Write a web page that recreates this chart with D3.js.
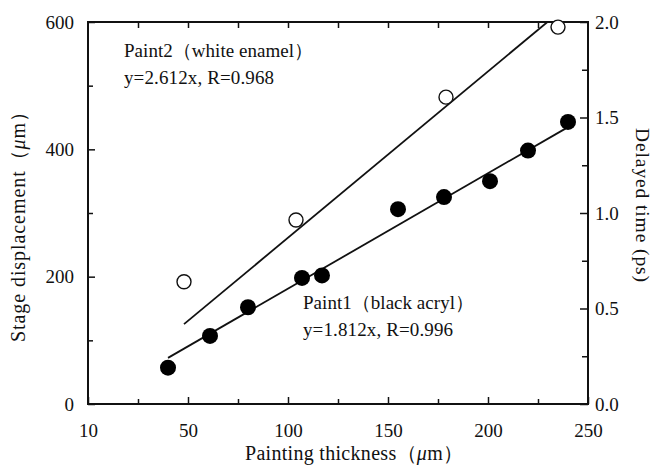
<!DOCTYPE html>
<html><head><meta charset="utf-8">
<script src="https://cdn.jsdelivr.net/npm/d3@7"></script>
<style>
body{margin:0;background:#fff;}
svg text{font-family:"Liberation Serif","Times New Roman","DejaVu Serif",serif !important;fill:#111;}
</style></head>
<body>
<svg id="c" width="654" height="466"></svg>
<script>
// Data
const paint1X = [40, 61, 80, 107, 117, 155, 178, 201, 220, 240];
const paint1Y = [57, 107, 152, 198, 202, 306, 325, 350, 398, 443];
const paint2X = [48, 104, 179, 235];
const paint2Y = [192, 289, 482, 592];
const fitSlopes = [1.812, 2.612];
const fitXRanges = [[40, 240], [48, 229.7]];
const xTickValues = [0, 50, 100, 150, 200, 250];
const xTickLabels = ["10", "50", "100", "150", "200", "250"];
const yTickValues = [0, 200, 400, 600];
const y2TickValues = [0, 0.5, 1.0, 1.5, 2.0];

const svg = d3.select("#c");
const L = 88, R = 588, T = 22, B = 404;
const x = d3.scaleLinear().domain([0, 250]).range([L, R]);
const y = d3.scaleLinear().domain([0, 600]).range([B, T]);
const y2 = d3.scaleLinear().domain([0, 2]).range([B, T]);

const fs = 19;
function styleAxis(g){
  g.attr("font-family", null).attr("font-size", null);
  g.select(".domain").remove();
  g.selectAll("line").attr("stroke","#111").attr("stroke-width",1.5);
  g.selectAll("text").attr("font-size",fs).attr("fill","#111");
}

// bottom axis major (inward)
svg.append("g").attr("transform",`translate(0,${B})`)
  .call(d3.axisBottom(x).tickValues(xTickValues).tickSize(-7).tickPadding(20)
    .tickFormat((d,i)=>xTickLabels[i])).call(styleAxis);
svg.append("g").attr("transform",`translate(0,${B})`)
  .call(d3.axisBottom(x).tickValues([25,75,125,175,225]).tickSize(-5).tickFormat("")).call(styleAxis);
// top axis
svg.append("g").attr("transform",`translate(0,${T})`)
  .call(d3.axisTop(x).tickValues([25,50,75,100,125,150,175,200,225]).tickSize(-6).tickFormat("")).call(styleAxis);
// left axis
svg.append("g").attr("transform",`translate(${L},0)`)
  .call(d3.axisLeft(y).tickValues(yTickValues).tickSize(-7).tickPadding(14).tickFormat(d3.format("d"))).call(styleAxis);
svg.append("g").attr("transform",`translate(${L},0)`)
  .call(d3.axisLeft(y).tickValues([100,300,500]).tickSize(-5).tickFormat("")).call(styleAxis);
// right axis
svg.append("g").attr("transform",`translate(${R},0)`)
  .call(d3.axisRight(y2).tickValues(y2TickValues).tickSize(-8).tickPadding(7).tickFormat(d3.format(".1f"))).call(styleAxis);
svg.append("g").attr("transform",`translate(${R},0)`)
  .call(d3.axisRight(y2).tickValues([0.25,0.75,1.25,1.75]).tickSize(-6).tickFormat("")).call(styleAxis);

// frame
svg.append("rect").attr("x",L).attr("y",T).attr("width",R-L).attr("height",B-T)
  .attr("fill","none").attr("stroke","#111").attr("stroke-width",2);

// clip
svg.append("clipPath").attr("id","clip").append("rect").attr("x",L).attr("y",T).attr("width",R-L).attr("height",B-T);

// fit lines
const line = d3.line().x(d=>x(d[0])).y(d=>y(d[1]));
fitSlopes.forEach((s,i)=>{
  const pts = fitXRanges[i].map(v=>[v, s*v]);
  svg.append("path").attr("d",line(pts)).attr("fill","none").attr("stroke","#111")
    .attr("stroke-width",1.8).attr("clip-path","url(#clip)");
});

// points
svg.append("g").selectAll("circle").data(paint1X.map((v,i)=>[v,paint1Y[i]])).join("circle")
  .attr("cx",d=>x(d[0])).attr("cy",d=>y(d[1])).attr("r",8).attr("fill","#000");
svg.append("g").selectAll("circle").data(paint2X.map((v,i)=>[v,paint2Y[i]])).join("circle")
  .attr("cx",d=>x(d[0])).attr("cy",d=>y(d[1])).attr("r",7).attr("fill","#fff")
  .attr("stroke","#111").attr("stroke-width",1.4);

// annotations
const ann = [
  ["Paint2（white enamel）", 124, 57, 189],
  ["y=2.612x, R=0.968", 124, 84, 150],
  ["Paint1（black acryl）", 303, 309, 171],
  ["y=1.812x, R=0.996", 303, 336, 150]
];
svg.append("g").selectAll("text").data(ann).join("text")
  .attr("x",d=>d[1]).attr("y",d=>d[2]).attr("font-size",19)
  .attr("textLength",d=>d[3]).attr("lengthAdjust","spacing").text(d=>d[0]);

// axis titles
const xt = svg.append("text").attr("x",245).attr("y",460).attr("font-size",20)
  .attr("textLength",218).attr("lengthAdjust","spacing");
xt.append("tspan").text("Painting thickness（");
xt.append("tspan").attr("font-style","italic").text("μ");
xt.append("tspan").text("m）");

const yt = svg.append("text").attr("transform","translate(25,342) rotate(-90)").attr("font-size",20)
  .attr("textLength",240).attr("lengthAdjust","spacing");
yt.append("tspan").text("Stage displacement（");
yt.append("tspan").attr("font-style","italic").text("μ");
yt.append("tspan").text("m）");

svg.append("text").attr("transform","translate(636,128) rotate(90)")
  .attr("font-size",19.5).attr("textLength",154).attr("lengthAdjust","spacing").text("Delayed time (ps)");
</script>
</body></html>
